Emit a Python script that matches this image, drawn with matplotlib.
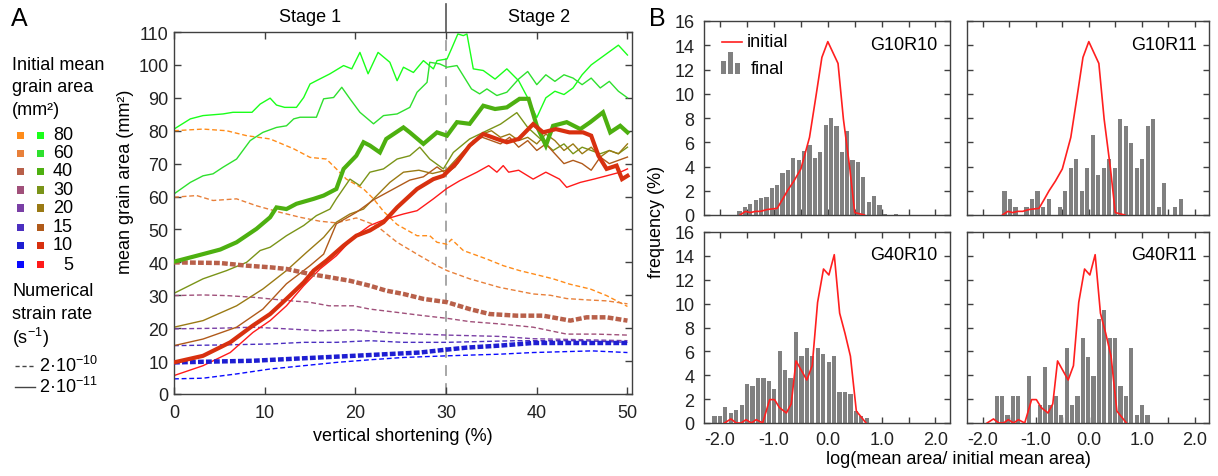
import numpy as np
import matplotlib
matplotlib.use('Agg')
import matplotlib.pyplot as plt
from matplotlib.patches import Rectangle
from matplotlib.lines import Line2D

plt.rcParams['font.family'] = ['Liberation Sans', 'DejaVu Sans']
plt.rcParams['mathtext.fontset'] = 'custom'
plt.rcParams['mathtext.rm'] = 'Liberation Sans'
plt.rcParams['mathtext.it'] = 'Liberation Sans:italic'
plt.rcParams['axes.unicode_minus'] = False

# ---------------- data: panel A ----------------
# solid lines: strain rate 2e-11 ; dashed: 2e-10
slow80_x = [0, 1.8, 3.2, 5.4, 6.5, 8.6, 9.5, 10.6, 11.3, 12.2, 13.5, 14.3, 15, 15.7, 17.2, 18.7, 19.6, 20.5, 21.4, 22.5, 23.8, 24.6, 25.3, 26.4, 27.5, 28.6, 29, 30.1, 30.6, 31.3, 31.9, 32.3, 33, 34.1, 35.4, 36.7, 38, 39, 40, 41, 42, 43, 44, 45, 46, 47, 48, 49, 50]
slow80_y = [80.5, 83.6, 84.6, 85.1, 85.6, 85.6, 88.1, 89.9, 87.8, 87.1, 87.1, 90.1, 94.2, 95.2, 97.3, 99.8, 98.8, 103.8, 97.3, 103.8, 100.8, 95.2, 99.3, 97.7, 101.3, 98.8, 101.3, 101.8, 104.9, 109.4, 108.9, 109.4, 98.8, 98.3, 95.7, 98.8, 95.2, 90, 84, 90, 92, 91, 93, 97, 100, 102, 104, 106, 103]
slow60_x = [0, 1.8, 3.2, 4.3, 5.4, 6.9, 8.4, 9.8, 11.3, 12.4, 13.2, 13.9, 15.7, 16.5, 17.6, 18.5, 19.4, 20.5, 22, 23.1, 24.6, 26, 26.8, 27.9, 28.2, 29.3, 30.1, 31.2, 31.9, 32.8, 33.7, 34.5, 35.6, 36.7, 38, 39, 40, 41, 42, 43, 44, 45, 46, 47, 48, 49, 50]
slow60_y = [60.8, 64.3, 66.3, 66.9, 68.9, 71.4, 77, 79.5, 81, 81.5, 83.6, 84.1, 84.1, 89.7, 90.1, 93.2, 89.7, 85.6, 82.1, 84.6, 85.1, 87.1, 91.7, 94.7, 100.8, 100.3, 99.3, 99.8, 96.7, 92.7, 91.2, 92.7, 90.7, 91.7, 95.7, 98, 94, 97, 95, 97, 96, 94, 96, 93, 95, 92, 90]
slow40_x = [0, 2.5, 5.1, 6.9, 9.1, 10.6, 11.3, 12.4, 13.5, 15.4, 16.5, 17.9, 18.7, 20.1, 20.9, 21.6, 22.7, 23.4, 25.3, 26, 27.5, 29, 30.1, 31.2, 32.6, 34.1, 35.4, 36.7, 38.1, 39.1, 40, 41, 41.8, 43.3, 44.8, 45.9, 47.3, 48.1, 49.2, 50]
slow40_y = [40.2, 42, 43.9, 46.1, 50.2, 53.7, 56.7, 56.2, 57.8, 59.3, 60.3, 62.3, 68.4, 72.4, 76.5, 75.5, 73.4, 77.5, 81, 79.5, 76, 79.5, 78.5, 82.6, 82.1, 87.6, 86.6, 87.1, 89.7, 89.7, 81.5, 75.5, 81.5, 82.6, 80.5, 82.6, 85.6, 79.5, 81.5, 79.5]
slow30_x = [0, 3.2, 5.8, 8, 9.5, 10.6, 12.4, 14.3, 15.7, 17.2, 17.9, 19.4, 20.5, 21.6, 23.1, 24.6, 26, 27.1, 28.2, 29.7, 30.8, 32.6, 34.1, 36, 37.8, 39, 40.4, 41.8, 43, 44, 45, 46, 47, 48, 49, 50]
slow30_y = [30.6, 35, 37.5, 40, 43.6, 44.6, 48.1, 51.2, 54.2, 56.2, 59.3, 65.3, 63.3, 67.4, 68.4, 71.4, 72.4, 75, 71.4, 68.4, 73.4, 77.5, 79.5, 82, 85.5, 81, 77.5, 74, 76, 73, 75, 74, 73, 74, 73, 75]
slow20_x = [0, 3.2, 6.9, 9.8, 12.4, 14.6, 16.5, 17.9, 19.4, 20.9, 22, 23.8, 25.3, 27, 28.5, 30, 31, 32, 33, 34, 35, 36, 37, 38, 39, 40, 41, 42, 43, 44, 45, 46, 47, 48, 49, 50]
slow20_y = [20.3, 22.3, 26.8, 31.9, 37.5, 43, 47.6, 52.2, 54.7, 56.2, 59.3, 64.3, 67.4, 68, 67, 68, 71, 74, 76, 79, 80, 78, 79, 77, 78, 76, 79, 77, 74, 76, 73, 75, 72, 74, 73, 76]
slow15_x = [0, 3.2, 6.9, 9.8, 12.4, 15, 16.5, 17.9, 20.1, 22, 24, 26, 27.5, 29, 30, 31, 32, 33, 34, 35, 36, 37, 38, 39, 40, 41, 42, 43, 44, 45, 46, 47, 48, 49, 50]
slow15_y = [14.7, 16.7, 20.3, 25.8, 33.5, 39, 42.5, 51.7, 55.2, 59, 62, 65, 66, 69, 67, 69, 73, 77, 78, 77, 76, 78, 75, 77, 74, 76, 73, 70, 71, 70, 68, 72, 70, 71, 72]
slow10_x = [0, 3.2, 6.2, 8.7, 10.6, 12.4, 14.3, 15.4, 16.8, 18.7, 20.1, 21.6, 23.1, 24.6, 26.8, 28.6, 29.7, 31.2, 32.6, 34.1, 35.6, 36.7, 38, 39.6, 40.7, 42.1, 43.6, 45.1, 46, 46.8, 47.7, 48.8, 49.4, 50]
slow10_y = [9.6, 11.6, 15.7, 20.8, 24.3, 28.9, 33.9, 37.5, 40.5, 45.1, 48.1, 49.7, 52.2, 56.7, 62.3, 65.3, 66.3, 70.4, 75.5, 79, 77.5, 76.5, 77.5, 82, 79.5, 80.5, 79.5, 79.5, 78.5, 72.4, 68.4, 69.4, 65.3, 66.3]
slow5_x = [0, 3.2, 6.2, 8.7, 10.6, 12.4, 14.3, 16.1, 17.9, 19.8, 21.6, 23.4, 25.3, 26.8, 28.6, 30.1, 31.5, 33.4, 34.7, 35.6, 36.3, 36.9, 38, 39.6, 41, 42.5, 43.3, 44.8, 46.3, 47.7, 49.2, 50]
slow5_y = [5.6, 8.6, 12.6, 18.7, 22.3, 26.8, 32.9, 38, 42, 47.6, 51.2, 53.2, 54.7, 55.7, 59.3, 62.5, 64.8, 67.4, 69.4, 67.4, 69.4, 67.4, 68, 65.3, 67.4, 65.3, 62.8, 64.3, 65.3, 66.3, 67.4, 68.4]

fast80_x = [0, 3.2, 5.8, 8, 10.6, 13.2, 15, 16.8, 17.9, 19, 20.9, 22, 23.1, 24.6, 26.8, 28.2, 29, 30.1, 30.6, 31.9, 34.5, 36.3, 38.1, 39.6, 41.8, 43.6, 45.9, 47.7, 50]
fast80_y = [80, 80.5, 80, 78.5, 77.5, 74.5, 71.9, 71.4, 68.4, 65.3, 62.3, 59.3, 55.5, 51.5, 48.1, 48.1, 46.1, 45.5, 47, 43.6, 41, 39, 37.5, 36.5, 35, 33.4, 31.9, 29.9, 26.6]
fast60_x = [0, 2.5, 4.3, 6.9, 9.1, 11.7, 13.9, 16.1, 17.9, 20.1, 22.3, 24.6, 27.1, 29, 30.1, 32.6, 35.9, 39.6, 41.5, 43.3, 45.5, 47.7, 50]
fast60_y = [59.8, 60.3, 58.8, 59.3, 57.2, 55.2, 53.7, 52.5, 52, 53.5, 51.2, 46.1, 42, 39, 37.5, 35, 32.4, 30.4, 30, 29, 28.6, 28.3, 27.4]
fast40_x = [0, 5.1, 8, 10.6, 12.4, 14.9, 17.1, 19.4, 21.6, 23.4, 25.3, 27.5, 30.1, 32.6, 34.8, 37.8, 40.7, 43.7, 45.5, 47.7, 50]
fast40_y = [40, 39.8, 39, 38.5, 38, 36.5, 35.5, 34.4, 32.9, 31.4, 30.4, 28.9, 27.9, 25.8, 24.3, 23.8, 23.8, 22.3, 23.3, 23.3, 22.3]
fast30_x = [0, 3.2, 5.8, 8.7, 10.6, 12.4, 14.9, 17.1, 19.8, 21.6, 24.6, 27.5, 30.1, 32.6, 35.9, 39.6, 43.3, 46.5, 50]
fast30_y = [29.9, 30.1, 29.9, 29.4, 28.9, 28.4, 27.9, 26.8, 26.8, 25.8, 24.8, 23.8, 23, 22, 21.3, 20.3, 18.2, 18.2, 17.9]
fast20_x = [0, 5.1, 8.7, 12.4, 16.1, 19.8, 23.4, 27.1, 30.1, 35.9, 39.6, 45, 50]
fast20_y = [19.8, 20, 20.3, 19.8, 19.2, 19.5, 18.7, 18.2, 17.9, 17.5, 16.8, 16.5, 16.2]
fast15_x = [0, 5.1, 10.6, 14.3, 17.9, 21.6, 25.3, 30.1, 37.8, 45, 50]
fast15_y = [14.7, 14.9, 15.2, 15.7, 15.7, 16.2, 15.7, 15.7, 16.2, 16.2, 15.7]
fast10_x = [0, 5.1, 8.7, 12.4, 16.1, 19.8, 23.4, 27.1, 30.1, 32.3, 35.9, 39.6, 43.3, 46.9, 50]
fast10_y = [9.6, 9.9, 10.1, 10.6, 11.1, 11.6, 12.1, 12.6, 13.5, 14.1, 14.7, 15.5, 15.5, 15.5, 15.5]
fast5_x = [0, 3.2, 6.9, 10.6, 14.3, 17.9, 21.6, 25.3, 30.1, 35.9, 39.6, 46.1, 50]
fast5_y = [4.6, 4.8, 6.1, 7.6, 8.6, 9.6, 10.4, 11.1, 11.6, 12.1, 12.6, 13.1, 12.6]

grain_sizes = [80, 60, 40, 30, 20, 15, 10, 5]
fast_colors = ['#FF8C1A', '#E8803A', '#B8604A', '#A0507A', '#7A3FA5', '#4B2FC0', '#1E1ED2', '#0A0AFF']
slow_colors = ['#1AFF1A', '#2EE02E', '#4DB010', '#7A9418', '#9A7A14', '#B05A1A', '#D8300F', '#FF1A1A']

# ---------------- data: panel B ----------------
hist_titles = ['G10R10', 'G10R11', 'G40R10', 'G40R11']
g10r10_final = [0.3, 0.7, 0.9, 1.2, 1.4, 1.5, 2.2, 2.5, 3.5, 3.7, 4.7, 4.5, 5.3, 5.8, 4.7, 5.2, 7.4, 8.0, 7.3, 5.2, 6.9, 4.5, 4.4, 3.1, 1.1, 1.6, 0.8, 0.1, 0.0, 0.1]
g10r11_final = [1.96, 1.3, 0.63, 0, 0.63, 1.3, 1.96, 0.63, 1.3, 0, 0.63, 1.96, 3.9, 4.6, 1.96, 3.9, 6.6, 3.3, 3.9, 4.6, 3.9, 7.9, 7.3, 5.95, 3.9, 4.6, 7.3, 7.9, 0.63, 2.6, 0, 0.63, 1.3]
g40r10_final = [0.56, 0.56, 1.3, 0.8, 1.06, 1.5, 3.3, 3.1, 3.8, 3.8, 3.5, 2.85, 6.0, 4.4, 3.8, 7.6, 5.6, 6.3, 5.6, 6.3, 5.8, 5.1, 5.6, 2.6, 2.6, 2.4, 1.0, 0.56, 0.4]
g40r11_final = [2.3, 2.3, 0.7, 2.3, 2.3, 0, 3.9, 0, 1.5, 4.7, 1.5, 2.3, 0.7, 6.3, 1.5, 2.3, 7.1, 5.5, 3.9, 8.7, 9.5, 7.1, 7.1, 3.1, 2.3, 6.3, 0.7, 1.5, 0.7]
final_bin_start = [-1.64, -1.59, -2.105, -1.74]
final_bin_step = [0.1, 0.104, 0.101, 0.1017]

g10_init_x = [-1.63, -1.53, -1.44, -1.34, -1.25, -1.13, -0.94, -0.84, -0.75, -0.63, -0.5, -0.34, -0.22, -0.11, 0.0, 0.19, 0.29, 0.41, 0.5, 0.68]
g10_init_y = [0, 0.3, 0.2, 0.3, 0.3, 0.45, 0.55, 1.3, 2.0, 2.8, 3.8, 6.4, 9.8, 13.0, 14.3, 12.5, 7.9, 3.8, 0.2, 0]
g40_init_x = [-1.92, -1.80, -1.70, -1.61, -1.52, -1.42, -1.33, -1.21, -1.08, -0.99, -0.90, -0.77, -0.68, -0.59, -0.49, -0.39, -0.29, -0.19, -0.08, 0.02, 0.12, 0.22, 0.32, 0.42, 0.53, 0.65, 0.71]
g40_init_y = [0, 0.34, 0, 0, 0.28, 0, 0.28, 0, 1.96, 1.96, 1.3, 0.84, 1.6, 5.2, 4.4, 3.6, 4.8, 10.1, 12.9, 12.4, 14.1, 9.2, 7.5, 5.6, 1.0, 0.34, 0]

# ---------------- figure ----------------
W, H = 1218, 477
fig = plt.figure(figsize=(W / 100, H / 100), dpi=100)
FS = 13
SPINE = '#404040'


def rect(l, t, r, b):
    return [l / W, 1 - b / H, (r - l) / W, (b - t) / H]


def ftext(x, y, s, **kw):
    kw.setdefault('fontsize', FS)
    kw.setdefault('va', 'center')
    return fig.text(x / W, 1 - y / H, s, **kw)


# ---------- panel A ----------
ax = fig.add_axes(rect(174, 33, 632, 395))
ax.set_xlim(0, 50.5)
ax.set_ylim(0, 110)

fast = [(fast80_x, fast80_y), (fast60_x, fast60_y), (fast40_x, fast40_y), (fast30_x, fast30_y),
        (fast20_x, fast20_y), (fast15_x, fast15_y), (fast10_x, fast10_y), (fast5_x, fast5_y)]
slow = [(slow80_x, slow80_y), (slow60_x, slow60_y), (slow40_x, slow40_y), (slow30_x, slow30_y),
        (slow20_x, slow20_y), (slow15_x, slow15_y), (slow10_x, slow10_y), (slow5_x, slow5_y)]

ax.plot([30, 30], [0, 110], color='#a0a0a0', lw=1.3, dashes=(6, 4), zorder=1)
ax.plot([30, 30], [110, 118.5], color='#555555', lw=1.2, clip_on=False, zorder=1)

for g, (xs, ys), c in zip(grain_sizes, fast, fast_colors):
    if g in (40, 10):
        ax.plot(xs, ys, color=c, lw=3.2, dashes=(1.3, 0.5), zorder=3)
    else:
        ax.plot(xs, ys, color=c, lw=1.0, dashes=(3.5, 2), zorder=2)
for g, (xs, ys), c in zip(grain_sizes, slow, slow_colors):
    if g in (40, 10):
        ax.plot(xs, ys, color=c, lw=3.0, zorder=4, solid_joinstyle='miter')
    else:
        ax.plot(xs, ys, color=c, lw=1.0, zorder=2)

ax.set_xticks([0, 10, 20, 30, 40, 50])
ax.set_yticks(range(0, 111, 10))
ax.tick_params(direction='in', top=True, right=True, length=5, width=1, labelsize=FS,
               color=SPINE, labelcolor='#222222')
ax.tick_params(axis='x', pad=7)
ax.tick_params(axis='y', pad=4)
for s in ax.spines.values():
    s.set_color(SPINE)
    s.set_linewidth(1.0)
ax.text(15, 114.6, 'Stage 1', ha='center', va='center', fontsize=FS)
ax.text(40.2, 114.6, 'Stage 2', ha='center', va='center', fontsize=FS)

ftext(403, 437, 'vertical shortening (%)', ha='center')
ftext(125, 182, 'mean grain area (mm²)', ha='center', rotation=90)
ftext(19, 19, 'A', ha='center', fontsize=18)

# left legend
ftext(12, 65, 'Initial mean')
ftext(12, 88, 'grain area')
ftext(12, 111, '(mm²)')
row_y = [136, 154, 172, 191, 209, 228, 246, 265]
for yy, g, cf, cs in zip(row_y, grain_sizes, fast_colors, slow_colors):
    for cx, c in ((20.5, cf), (40.5, cs)):
        fig.patches.append(Rectangle(((cx - 3.5) / W, 1 - (yy + 3.5) / H), 7 / W, 7 / H,
                                     transform=fig.transFigure, color=c, lw=0))
    ftext(73, yy, str(g), ha='right')
ftext(12, 292, 'Numerical')
ftext(12, 315, 'strain rate')
ftext(12, 338, '(s$^{-1}$)')
fig.add_artist(Line2D([15 / W, 35 / W], [1 - 367 / H, 1 - 367 / H], transform=fig.transFigure,
                      color='#444444', lw=1.0, dashes=(3, 2)))
fig.add_artist(Line2D([15 / W, 35 / W], [1 - 388 / H, 1 - 388 / H], transform=fig.transFigure,
                      color='#444444', lw=1.0))
ftext(39, 366, '2·10$^{-10}$')
ftext(39, 387, '2·10$^{-11}$')

# ---------- panel B ----------
finals = [g10r10_final, g10r11_final, g40r10_final, g40r11_final]
inits = [(g10_init_x, g10_init_y), (g10_init_x, g10_init_y), (g40_init_x, g40_init_y), (g40_init_x, g40_init_y)]
boxes = [(704, 22, 950, 216), (967, 22, 1209, 216), (704, 233, 950, 424), (967, 233, 1209, 424)]
xt = [-2, -1.5, -1, -0.5, 0, 0.5, 1, 1.5, 2]
xtl = ['-2.0', '', '-1.0', '', '0.0', '', '1.0', '', '2.0']
for i, (box, vals, (ix, iy)) in enumerate(zip(boxes, finals, inits)):
    a = fig.add_axes(rect(*box))
    centers = final_bin_start[i] + final_bin_step[i] * np.arange(len(vals))
    a.bar(centers, vals, width=final_bin_step[i] * 0.78, color='#808080', lw=0, zorder=2)
    a.plot(ix, iy, color='#FF1F1F', lw=1.2, zorder=3)
    a.set_xlim(-2.3, 2.27)
    a.set_ylim(0, 16)
    a.set_yticks(range(0, 17, 2))
    a.set_xticks(xt)
    if i >= 2:
        a.set_xticklabels(xtl)
    else:
        a.set_xticklabels([])
    if i % 2 == 1:
        a.set_yticklabels([])
    a.tick_params(direction='in', top=True, right=True, length=4, width=1, labelsize=FS,
                  color=SPINE, labelcolor='#222222')
    a.tick_params(axis='x', pad=6)
    a.tick_params(axis='y', pad=7)
    for s in a.spines.values():
        s.set_color(SPINE)
        s.set_linewidth(1.0)
    a.text(0.95, 0.858, hist_titles[i], transform=a.transAxes, ha='right', va='baseline', fontsize=FS)
    if i == 0:
        a.plot([0.072, 0.153], [0.893, 0.893], transform=a.transAxes, color='#FF1F1F', lw=1.2)
        a.text(0.174, 0.893, 'initial', transform=a.transAxes, va='center', fontsize=FS)
        for bx, bh in ((0.069, 0.067), (0.0976, 0.113), (0.126, 0.057)):
            a.add_patch(Rectangle((bx, 0.727), 0.021, bh, transform=a.transAxes, color='#808080', lw=0))
        a.text(0.191, 0.753, 'final', transform=a.transAxes, va='center', fontsize=FS)

ftext(657, 222, 'frequency (%)', ha='center', rotation=90)
ftext(958, 460, 'log(mean area/ initial mean area)', ha='center')
ftext(657, 19, 'B', ha='center', fontsize=18)

fig.savefig('out.png', dpi=100)
